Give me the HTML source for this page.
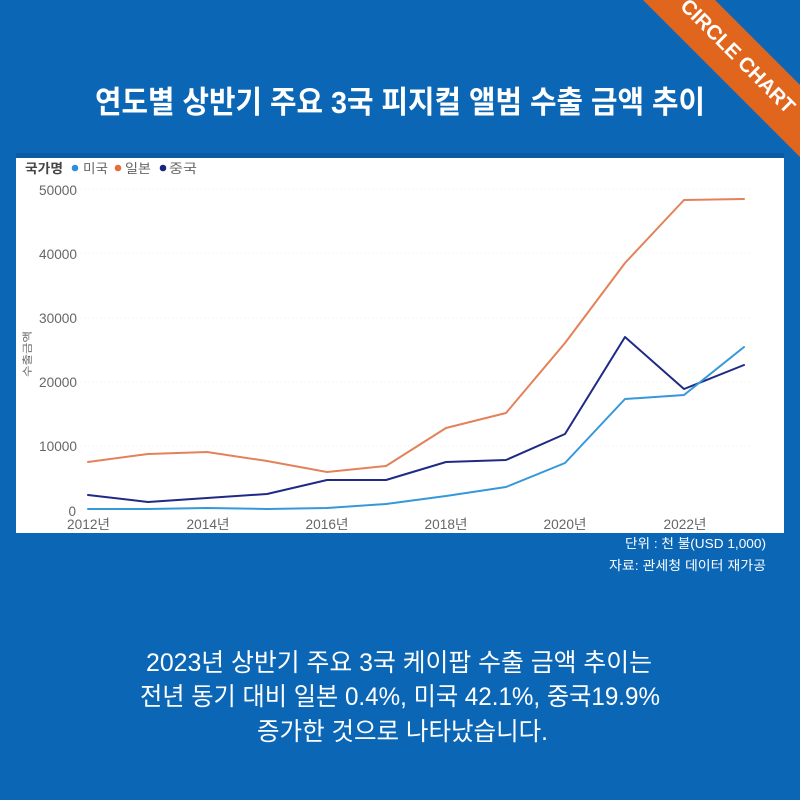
<!DOCTYPE html>
<html><head><meta charset="utf-8"><style>
html,body{margin:0;padding:0;background:#0b67b6;}
svg{display:block;}
</style></head><body>
<svg width="800" height="800" viewBox="0 0 800 800" xmlns="http://www.w3.org/2000/svg">
<rect x="0" y="0" width="800" height="800" fill="#0b67b6"/>
<!-- ribbon -->
<polygon points="643,0 715,0 800,85 800,157" fill="#e1661d"/>
<g transform="translate(738,56) rotate(45)">
<text x="0" y="7" text-anchor="middle" font-family="Liberation Sans, sans-serif" font-weight="bold" font-size="20.5" fill="#fff" textLength="152" lengthAdjust="spacingAndGlyphs">CIRCLE CHART</text>
</g>
<!-- title -->
<text x="95" y="113" font-family="Liberation Sans, Noto Sans CJK KR, sans-serif" font-weight="bold" font-size="31" fill="#fff" textLength="610" lengthAdjust="spacingAndGlyphs">연도별 상반기 주요 3국 피지컬 앨범 수출 금액 추이</text>
<!-- chart panel -->
<rect x="16" y="153" width="768" height="5" fill="#0a5ba3"/>
<rect x="16" y="158" width="768" height="375" fill="#ffffff"/>
<!-- legend -->
<text x="25" y="173" font-family="Liberation Sans, Noto Sans CJK KR, sans-serif" font-weight="bold" font-size="13" fill="#444" textLength="38" lengthAdjust="spacingAndGlyphs">국가명</text>
<circle cx="75" cy="168" r="3.3" fill="#2d8fe0"/>
<text x="83" y="173" font-family="Liberation Sans, Noto Sans CJK KR, sans-serif" font-size="13" fill="#666" textLength="25" lengthAdjust="spacingAndGlyphs">미국</text>
<circle cx="118" cy="168" r="3.3" fill="#e2703b"/>
<text x="125" y="173" font-family="Liberation Sans, Noto Sans CJK KR, sans-serif" font-size="13" fill="#666" textLength="26" lengthAdjust="spacingAndGlyphs">일본</text>
<circle cx="163" cy="168" r="3.3" fill="#1b2380"/>
<text x="169" y="173" font-family="Liberation Sans, Noto Sans CJK KR, sans-serif" font-size="13" fill="#666" textLength="28" lengthAdjust="spacingAndGlyphs">중국</text>
<!-- gridlines -->
<g stroke="#f5f5f5" stroke-width="1" stroke-dasharray="2,2">
<line x1="80" y1="189" x2="750" y2="189"/>
<line x1="80" y1="253" x2="750" y2="253"/>
<line x1="80" y1="318" x2="750" y2="318"/>
<line x1="80" y1="382" x2="750" y2="382"/>
<line x1="80" y1="446" x2="750" y2="446"/>
</g>
<!-- y tick labels -->
<g font-family="Liberation Sans, sans-serif" font-size="13.5" fill="#666" text-anchor="end">
<text x="77" y="195" textLength="38" lengthAdjust="spacingAndGlyphs">50000</text>
<text x="77" y="259" textLength="38" lengthAdjust="spacingAndGlyphs">40000</text>
<text x="77" y="323" textLength="38" lengthAdjust="spacingAndGlyphs">30000</text>
<text x="77" y="387" textLength="38" lengthAdjust="spacingAndGlyphs">20000</text>
<text x="77" y="451" textLength="38" lengthAdjust="spacingAndGlyphs">10000</text>
<text x="76" y="516">0</text>
</g>
<!-- y axis title -->
<g transform="translate(31,354) rotate(-90)">
<text x="0" y="0" text-anchor="middle" font-family="Liberation Sans, Noto Sans CJK KR, sans-serif" font-size="10" fill="#666" textLength="46" lengthAdjust="spacingAndGlyphs">수출금액</text>
</g>
<!-- x tick labels -->
<g font-family="Liberation Sans, Noto Sans CJK KR, sans-serif" font-size="13.5" fill="#666" text-anchor="middle">
<text x="88.5" y="529" textLength="43" lengthAdjust="spacingAndGlyphs">2012년</text>
<text x="208" y="529" textLength="43" lengthAdjust="spacingAndGlyphs">2014년</text>
<text x="327" y="529" textLength="43" lengthAdjust="spacingAndGlyphs">2016년</text>
<text x="446" y="529" textLength="43" lengthAdjust="spacingAndGlyphs">2018년</text>
<text x="565" y="529" textLength="43" lengthAdjust="spacingAndGlyphs">2020년</text>
<text x="685" y="529" textLength="43" lengthAdjust="spacingAndGlyphs">2022년</text>
</g>
<!-- series -->
<g fill="none" stroke-width="2" stroke-linejoin="round" stroke-linecap="round">
<polyline stroke="#e3825a" points="88,462 148,454 207,452 267,461 327,472 386,466 446,428 506,413 565,343 625,263 684,200 744,199"/>
<polyline stroke="#1e2a85" points="88,495 148,502 207,498 267,494 327,480 386,480 446,462 506,460 565,434 625,337 684,389 744,365"/>
<polyline stroke="#3598da" points="88,509 148,509 207,508 267,509 327,508 386,504 446,496 506,487 565,463 625,399 684,395 744,347"/>
</g>
<!-- footnotes -->
<g font-family="Liberation Sans, Noto Sans CJK KR, sans-serif" font-size="13" fill="#fff" text-anchor="end">
<text x="766" y="548" textLength="141" lengthAdjust="spacingAndGlyphs">단위 : 천 불(USD 1,000)</text>
<text x="766" y="570" textLength="157" lengthAdjust="spacingAndGlyphs">자료: 관세청 데이터 재가공</text>
</g>
<!-- bottom paragraph -->
<g font-family="Liberation Sans, Noto Sans CJK KR, sans-serif" font-size="25" fill="#fff">
<text x="146" y="671" textLength="506" lengthAdjust="spacingAndGlyphs">2023년 상반기 주요 3국 케이팝 수출 금액 추이는</text>
<text x="140" y="705" textLength="520" lengthAdjust="spacingAndGlyphs">전년 동기 대비 일본 0.4%, 미국 42.1%, 중국19.9%</text>
<text x="257" y="740" textLength="291" lengthAdjust="spacingAndGlyphs">증가한 것으로 나타났습니다.</text>
</g>
</svg>
</body></html>
